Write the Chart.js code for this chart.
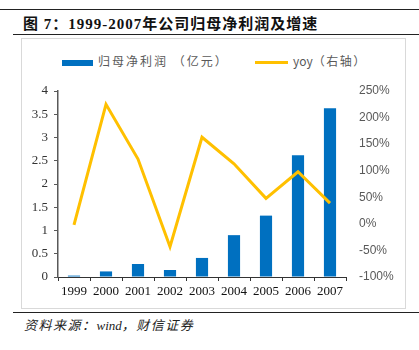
<!DOCTYPE html>
<html lang="zh">
<head>
  <meta charset="UTF-8">
  <title>1999-2007年公司归母净利润及增速</title>
  <style>
    body {
      margin: 0;
      width: 419px;
      height: 350px;
      background: #fff;
      position: relative;
      overflow: hidden;
      font-family: 'Liberation Serif', 'Noto Sans CJK SC', serif;
    }
    .rule { position: absolute; height: 0; border-top: 1.5px solid #222; }
    .title {
      position: absolute; left: 23px; top: 12px;
      font-size: 15px; font-weight: bold; color: #111; white-space: nowrap;
      letter-spacing: 1px;
    }
    .box {
      position: absolute; left: 21px; top: 38px; width: 385px; height: 271px;
      border: 1px solid #d9d9d9; box-sizing: border-box;
    }
    .legend {
      position: absolute; top: 52px; font-size: 12px; color: #595959;
      font-family: 'Noto Sans CJK SC', sans-serif; white-space: nowrap;
    }
    .legend i { display: inline-block; vertical-align: middle; margin-right: 5px; }
    .plain { letter-spacing: 0; }
    .source {
      position: absolute; left: 24px; top: 315px;
      font-size: 13px; font-style: italic; color: #222; white-space: nowrap;
      letter-spacing: 1.5px;
    }
    canvas { position: absolute; left: 22px; top: 39px; }
  </style>
  <script src="https://cdn.jsdelivr.net/npm/chart.js"></script>
</head>
<body>
  <div class="rule" style="left:0; top:9px; width:419px;"></div>
  <div class="title">图 7：1999-2007年公司归母净利润及增速</div>
  <div class="rule" style="left:13px; top:34px; width:406px;"></div>
  <div class="box"></div>
  <div class="legend" style="left:62px; letter-spacing:2px;"><i style="width:31px;height:6px;background:#0070C0;"></i>归母净利润 （亿元）</div>
  <div class="legend" style="left:255px; letter-spacing:1.5px;"><i style="width:33px;height:3px;background:#FFC000;"></i><span class="plain">yoy</span>（右轴）</div>
  <canvas id="chart" width="384" height="269"></canvas>
  <div class="rule" style="left:13px; top:312px; width:406px;"></div>
  <div class="source">资料来源：<span class="plain">wind</span>，财信证券</div>

  <script>
    // 年份
    const years = ['1999', '2000', '2001', '2002', '2003', '2004', '2005', '2006', '2007'];
    // 归母净利润（亿元）
    const netProfit = [0.03, 0.12, 0.28, 0.15, 0.41, 0.9, 1.32, 2.62, 3.63];
    // yoy（%）
    const yoy = [-2, 225, 122, -43, 163, 113, 48, 98, 39];

    // 固定坐标轴尺寸，让绘图区位置可控
    function fixWidth(w) {
      return function (scale) { scale.width = w; scale.paddingTop = 0; scale.paddingBottom = 0; };
    }

    new Chart(document.getElementById('chart').getContext('2d'), {
      data: {
        labels: years,
        datasets: [
          {
            type: 'line',
            label: 'yoy（右轴）',
            data: yoy,
            yAxisID: 'y1',
            borderColor: '#FFC000',
            borderWidth: 3,
            pointRadius: 0,
            tension: 0,
            order: 0
          },
          {
            type: 'bar',
            label: '归母净利润 （亿元）',
            data: netProfit,
            yAxisID: 'y',
            backgroundColor: '#0070C0',
            barPercentage: 0.38,
            categoryPercentage: 1,
            order: 1
          }
        ]
      },
      options: {
        responsive: false,
        animation: false,
        layout: { padding: { top: 52, left: 0, right: 0, bottom: 0 } },
        plugins: { legend: { display: false }, tooltip: { enabled: false } },
        scales: {
          x: {
            offset: true,
            grid: { offset: true, drawOnChartArea: false, drawTicks: true, tickLength: 4, color: '#333' },
            border: { display: true, color: '#333', width: 1 },
            ticks: { color: '#111', font: { family: 'Liberation Serif', size: 13 }, padding: 3, maxRotation: 0 },
            afterFit: function (scale) { scale.height = 31; scale.paddingLeft = 0; scale.paddingRight = 0; }
          },
          y: {
            position: 'left',
            min: 0, max: 4,
            ticks: {
              stepSize: 0.5, color: '#333', padding: 6,
              font: { family: 'Liberation Serif', size: 13 },
              callback: function (v) { return String(v); }
            },
            grid: { drawOnChartArea: false, drawTicks: true, tickLength: 4, color: '#595959' },
            border: { display: true, color: '#595959', width: 1.5 },
            afterFit: fixWidth(36)
          },
          y1: {
            position: 'right',
            min: -100, max: 250,
            ticks: {
              stepSize: 50, color: '#595959', padding: 13,
              font: { family: 'Liberation Sans', size: 12 },
              callback: function (v) { return v + '%'; }
            },
            grid: { display: false, drawTicks: false },
            border: { display: false },
            afterFit: fixWidth(60)
          }
        }
      }
    });
  </script>
</body>
</html>
